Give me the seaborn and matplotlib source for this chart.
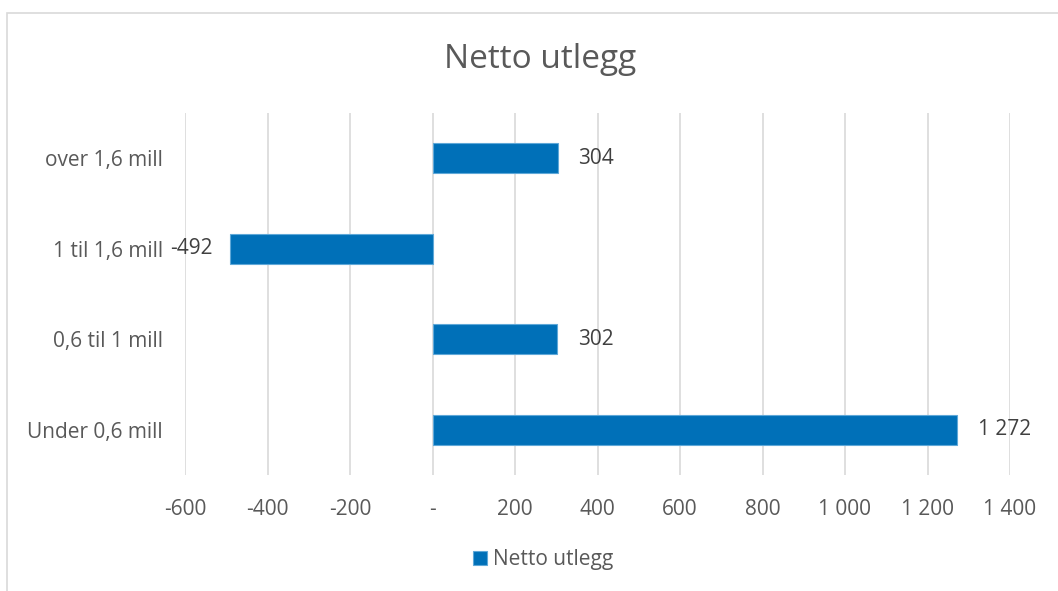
import pandas as pd
import seaborn as sns
import matplotlib.pyplot as plt
from matplotlib.patches import Rectangle
from matplotlib.ticker import FuncFormatter

categories = ["over 1,6 mill", "1 til 1,6 mill", "0,6 til 1 mill", "Under 0,6 mill"]
values = [304, -492, 302, 1272]
series_name = "Netto utlegg"

sns.set_style("white")
plt.rcParams['font.family'] = ['Open Sans', 'DejaVu Sans']
grey = '#595959'
blue = '#0070B8'


def fmt(v, pos=None):
    if v == 0:
        return "-"
    s = f"{abs(int(round(v))):,}".replace(",", " ")
    return ("-" if v < 0 else "") + s


df = pd.DataFrame({"kategori": categories, "verdi": values, "serie": series_name})

fig = plt.figure(figsize=(10.58, 5.91), dpi=100)
ax = fig.add_axes([185 / 1058, 1 - 475 / 591, 825 / 1058, 362 / 591])

sns.barplot(data=df, x="verdi", y="kategori", hue="serie", orient="h",
            palette=[blue], saturation=1, width=0.33, ax=ax,
            edgecolor='#5fa8d8', linewidth=0.8)

ax.set_xlim(-600, 1400)
ax.set_ylim(3.5, -0.5)
ax.set_xticks(range(-600, 1401, 200))
ax.xaxis.set_major_formatter(FuncFormatter(fmt))
ax.grid(axis='x', color='#d9d9d9', linewidth=1.2)
ax.set_axisbelow(True)
for s in ax.spines.values():
    s.set_visible(False)
ax.tick_params(axis='both', length=0, labelsize=15, labelcolor=grey)
ax.tick_params(axis='x', pad=17)
ax.tick_params(axis='y', pad=16)
ax.set_xlabel("")
ax.set_ylabel("")

for i, v in enumerate(values):
    if v >= 0:
        ax.text(v + 50, i, fmt(v), va='center', ha='left', fontsize=15, color='#404040')
    else:
        ax.text(v - 42, i, fmt(v), va='center', ha='right', fontsize=15, color='#404040')

fig.text(540 / 1058, 1 - 60 / 591, "Netto utlegg", ha='center', va='center',
         fontsize=24, color=grey)

ax.legend(loc='center', bbox_to_anchor=(543 / 1058, 1 - 560 / 591),
          bbox_transform=fig.transFigure, frameon=False, fontsize=15,
          labelcolor=grey, handlelength=0.65, handleheight=0.65, handletextpad=0.3)

fig.patches.append(Rectangle((7 / 1058, -0.05), 1.1, 1 - 13 / 591 + 0.05,
                             transform=fig.transFigure, fill=False,
                             edgecolor='#d9d9d9', linewidth=1.2))

fig.savefig("out.png", dpi=100)
